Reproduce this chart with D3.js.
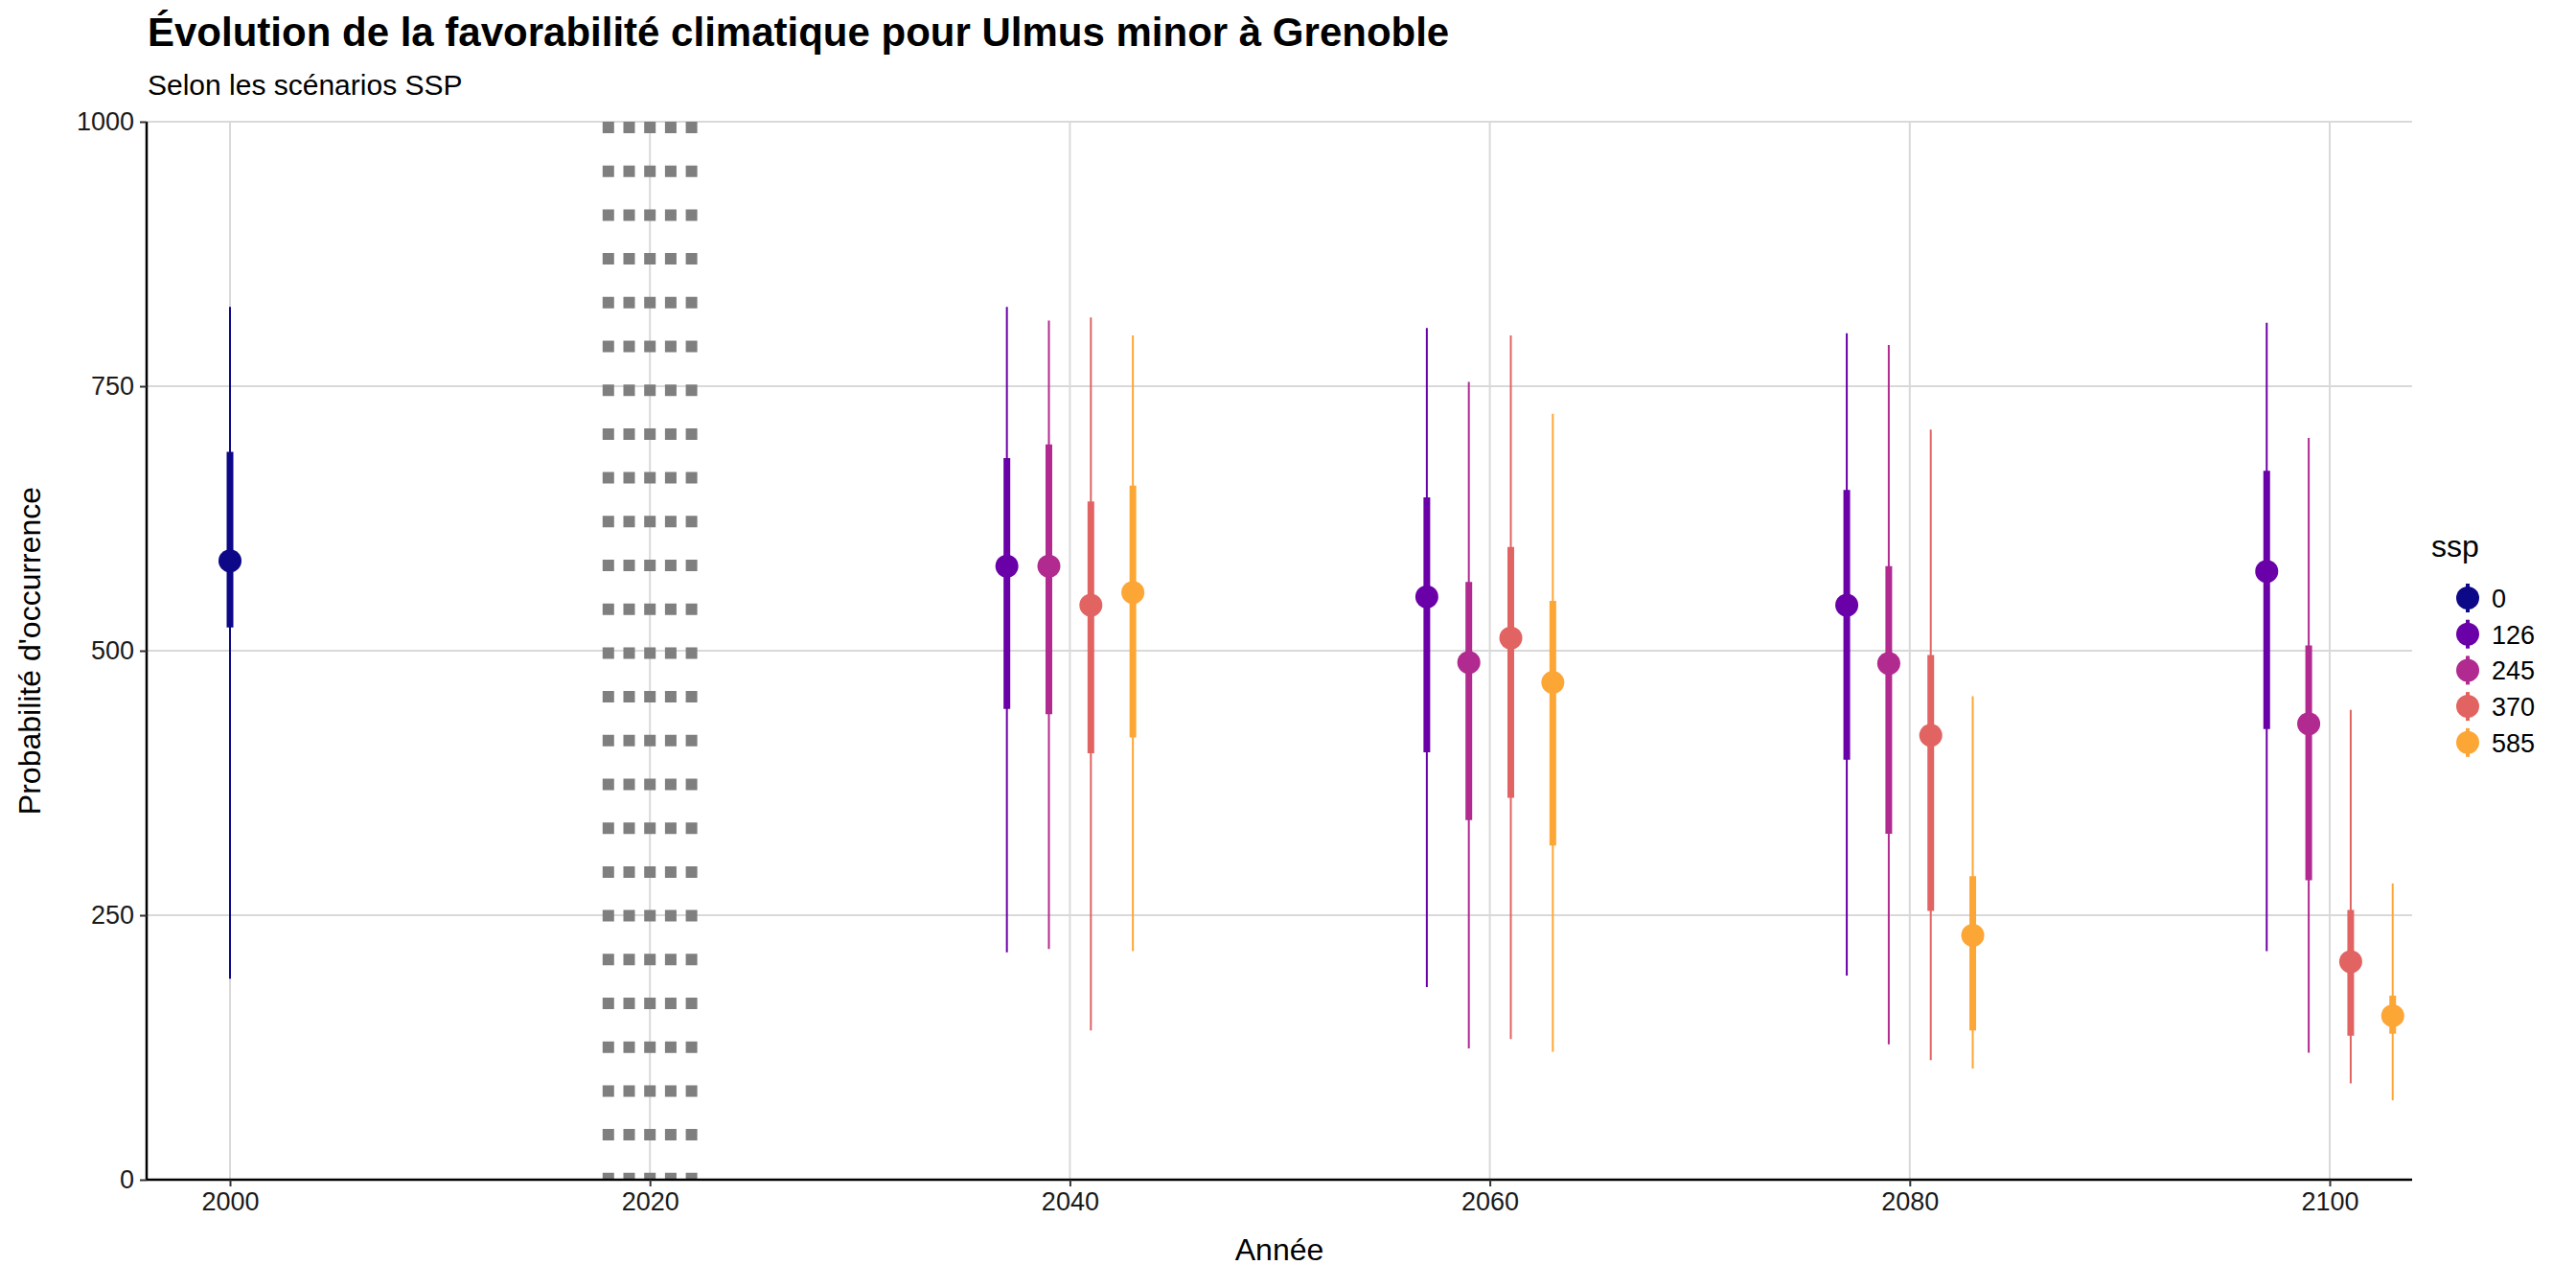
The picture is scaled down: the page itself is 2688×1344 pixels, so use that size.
<!DOCTYPE html>
<html><head><meta charset="utf-8">
<script src="https://cdn.jsdelivr.net/npm/d3@7"></script>
<style>body{margin:0;background:#fff}text{font-family:"Liberation Sans",Arial,sans-serif}</style>
</head><body><svg id="c" width="2688" height="1344"></svg>
<script>
const ssps = ["0","126","245","370","585"];
const colors = ["#0D0887","#6A00A8","#B12A90","#E16462","#FCA636"];
const years = [2000,2040,2040,2040,2040,2060,2060,2060,2060,2080,2080,2080,2080,2100,2100,2100,2100];
const sspOf = ["0","126","245","370","585","126","245","370","585","126","245","370","585","126","245","370","585"];
const median = [585,580,580,543,555,551,489,512,470,543,488,420,231,575,431,206,155];
const q25 = [522,445,440,403,418,404,340,361,316,397,327,254,141,426,283,136,138];
const q75 = [688,682,695,641,656,645,565,598,547,652,580,496,287,670,505,255,174];
const lo = [190,215,218,141,216,182,124,133,121,193,128,113,105,216,120,91,75];
const hi = [825,825,812,815,798,805,754,798,724,800,789,709,457,810,701,444,280];
const xTicks = [2000,2020,2040,2060,2080,2100];
const yTicks = [0,250,500,750,1000];
const dodge = {"0":0,"126":-3,"245":-1,"370":1,"585":3};

const svg = d3.select("#c");
const L=153,R=2517,T=127,B=1231;
const x = d3.scaleLinear().domain([2000,2100]).range([240,2431]);
const y = d3.scaleLinear().domain([0,1000]).range([B,T]);
const col = d3.scaleOrdinal().domain(ssps).range(colors);

const g = svg.append("g");
g.selectAll(".hg").data(yTicks.slice(1)).join("line").attr("x1",L).attr("x2",R)
 .attr("y1",d=>y(d)).attr("y2",d=>y(d)).attr("stroke","#d9d9d9").attr("stroke-width",2);
g.selectAll(".vg").data(xTicks).join("line").attr("x1",d=>x(d)).attr("x2",d=>x(d))
 .attr("y1",T).attr("y2",B).attr("stroke","#d9d9d9").attr("stroke-width",2);

[-2,-1,0,1,2].forEach(k=>{
  g.append("line").attr("x1",x(2020)+k*21.7).attr("x2",x(2020)+k*21.7)
   .attr("y1",T).attr("y2",B).attr("stroke","#7f7f7f").attr("stroke-width",12)
   .attr("stroke-dasharray","12,33.7");
});

const data = years.map((yr,i)=>({yr,ssp:sspOf[i],m:median[i],a:q25[i],b:q75[i],l:lo[i],h:hi[i]}));
const px = d=>x(d.yr+dodge[d.ssp]);
g.selectAll(".thin").data(data).join("line").attr("x1",px).attr("x2",px)
 .attr("y1",d=>y(d.l)).attr("y2",d=>y(d.h)).attr("stroke",d=>col(d.ssp)).attr("stroke-width",2);
g.selectAll(".thick").data(data).join("line").attr("x1",px).attr("x2",px)
 .attr("y1",d=>y(d.a)).attr("y2",d=>y(d.b)).attr("stroke",d=>col(d.ssp)).attr("stroke-width",7);
g.selectAll(".pt").data(data).join("circle").attr("cx",px).attr("cy",d=>y(d.m))
 .attr("r",12).attr("fill",d=>col(d.ssp));

const xa = svg.append("g").attr("transform",`translate(0,${B})`)
 .call(d3.axisBottom(x).tickValues(xTicks).tickFormat(d3.format("d")).tickSize(7).tickPadding(6));
xa.select(".domain").attr("d",`M${L},0H${R}`).attr("stroke","#000").attr("stroke-width",2.5);
const ya = svg.append("g").attr("transform",`translate(${L},0)`)
 .call(d3.axisLeft(y).tickValues(yTicks).tickFormat(d3.format("d")).tickSize(7).tickPadding(6));
ya.select(".domain").attr("d",`M0,${T}V${B}`).attr("stroke","#000").attr("stroke-width",2.5);
[xa,ya].forEach(a=>{a.selectAll("text").attr("font-size",27).attr("fill","#1a1a1a").style("font-family","Liberation Sans, Arial");
 a.selectAll(".tick line").attr("stroke","#333").attr("stroke-width",2);});

svg.append("text").attr("x",154).attr("y",48).attr("font-size",42).attr("font-weight","bold")
 .text("Évolution de la favorabilité climatique pour Ulmus minor à Grenoble");
svg.append("text").attr("x",154).attr("y",99).attr("font-size",30).text("Selon les scénarios SSP");
svg.append("text").attr("x",(L+R)/2).attr("y",1315).attr("text-anchor","middle").attr("font-size",32).text("Année");
svg.append("text").attr("transform",`translate(42,${(T+B)/2}) rotate(-90)`).attr("text-anchor","middle")
 .attr("font-size",32).text("Probabilité d'occurrence");

const lg = svg.append("g");
lg.append("text").attr("x",2537).attr("y",581).attr("font-size",32).text("ssp");
ssps.forEach((s,i)=>{
  const cy = 624+i*37.7;
  lg.append("line").attr("x1",2575).attr("x2",2575).attr("y1",cy-15).attr("y2",cy+15).attr("stroke",colors[i]).attr("stroke-width",4);
  lg.append("circle").attr("cx",2575).attr("cy",cy).attr("r",12).attr("fill",colors[i]);
  lg.append("text").attr("x",2600).attr("y",cy+10).attr("font-size",27).text(s);
});
</script></body></html>
